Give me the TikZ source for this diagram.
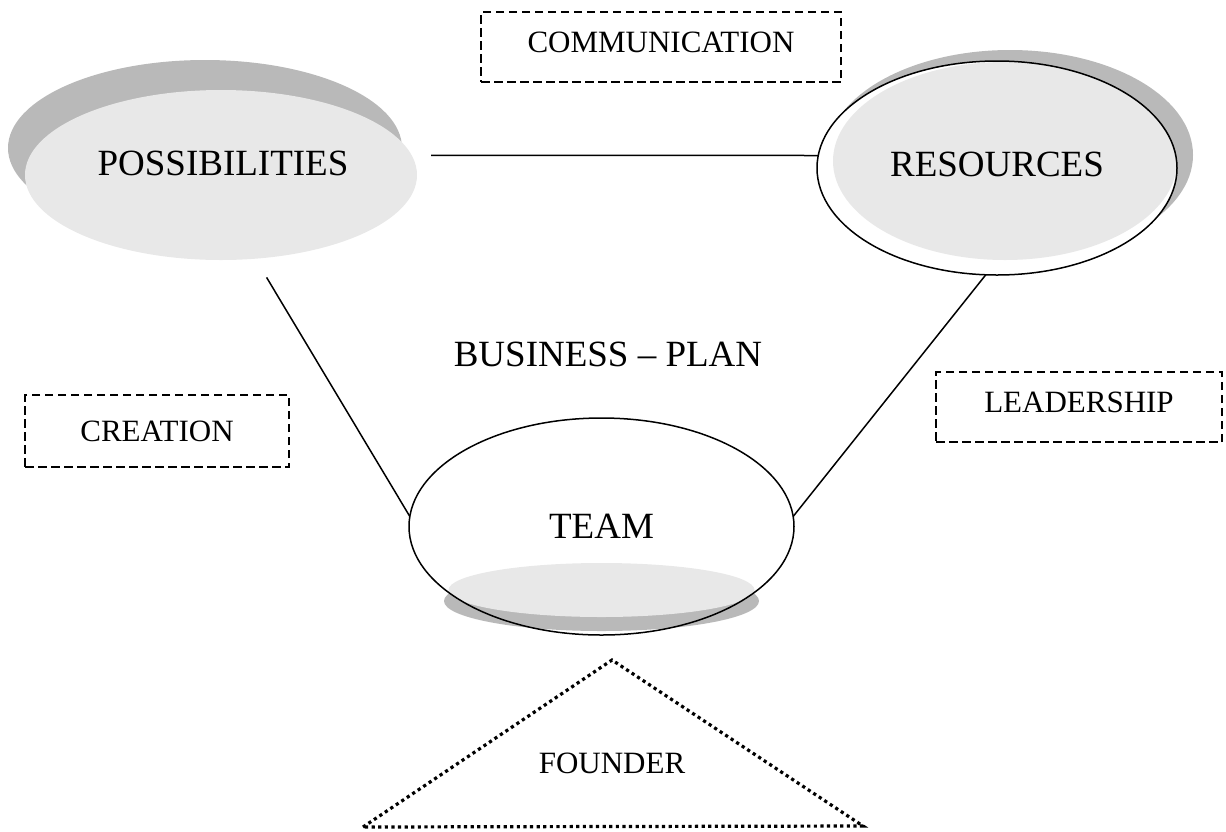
\documentclass[tikz,border=0pt]{standalone}
\usepackage{fontspec}
\setmainfont{Liberation Serif}
\usetikzlibrary{shapes.geometric}

\begin{document}
\begin{tikzpicture}[x=1pt,y=-1pt,
  every node/.style={inner sep=0pt,outer sep=0pt,font=\fontsize{37}{40}\selectfont},
  oval/.style={ellipse,draw,line width=1.5pt},
  backshadow/.style={ellipse,fill=gray!55},
  palefill/.style={ellipse,fill=gray!18},
  dashbox/.style={draw,line width=1.3pt,dash pattern=on 8.5pt off 4.5pt,text depth=10pt,font=\fontsize{31}{34}\selectfont},
  link/.style={line width=1.5pt}]

\useasboundingbox (0,0) rectangle (1226,831);

% possibilities
\node[backshadow,minimum width=394pt,minimum height=176pt] (posssh) at (205,148) {};
\node[palefill,minimum width=392pt,minimum height=170pt] (posspl) at (221,175) {};
\node[ellipse,minimum width=424pt,minimum height=220pt] (poss) at (221,170) {};
\node (posstxt) at (223,163) {POSSIBILITIES};

% resources
\node[backshadow,minimum width=366pt,minimum height=210pt] (ressh) at (1010,155) {};
\node[oval,fill=white,minimum width=360pt,minimum height=214pt,text depth=8pt,
      path picture={\fill[gray!18] ([xshift=8pt,yshift=7pt]path picture bounding box.center) ellipse [x radius=172pt,y radius=99pt];}]
      (res) at (997,168) {RESOURCES};

% team
\node[backshadow,minimum width=315pt,minimum height=60pt] (teamsh) at (601.5,601) {};
\node[palefill,minimum width=306pt,minimum height=54pt] (teampl) at (601.5,590) {};
\node[oval,minimum width=385pt,minimum height=217pt] (team) at (601.5,526.5) {TEAM};

% labels
\node (plan) at (608,354) {BUSINESS – PLAN};
\node[dashbox,minimum width=360pt,minimum height=70pt] (comm) at (661,47) {COMMUNICATION};
\node[dashbox,minimum width=264pt,minimum height=72pt,text depth=0pt] (creat) at (157,431) {CREATION};
\node[dashbox,minimum width=286pt,minimum height=70pt] (lead) at (1079,407) {LEADERSHIP};

% founder
\draw[line width=3.2pt,dash pattern=on 3.2pt off 3.4pt] (363,827) -- (612,660) -- (863,826) -- cycle;
\node[font=\fontsize{31}{34}\selectfont] (founder) at (612,763) {FOUNDER};

\path[link] (poss.4) edge (res.176)
      (poss.-67) edge (team.177)
      (res.264) edge (team.3);

\end{tikzpicture}
\end{document}
